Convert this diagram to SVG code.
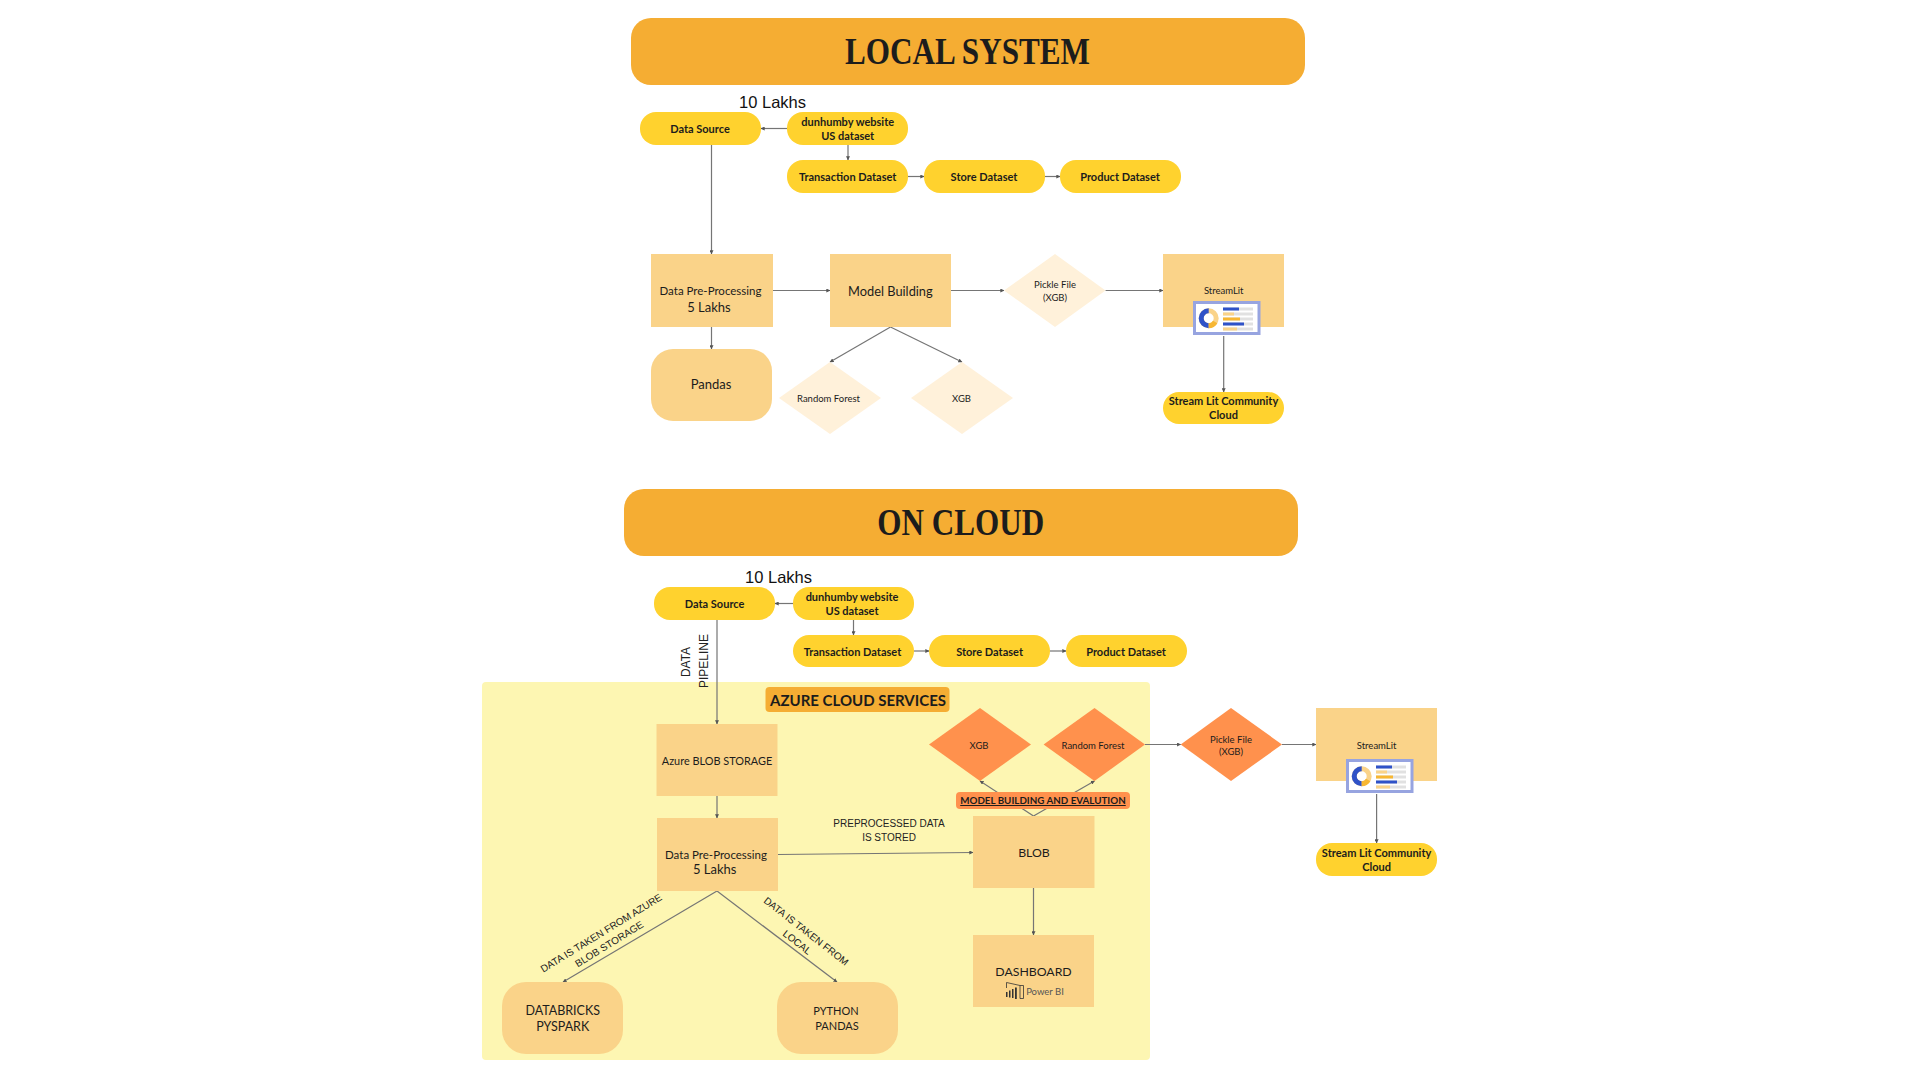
<svg xmlns="http://www.w3.org/2000/svg" width="1920" height="1080" viewBox="0 0 1920 1080">
<style>
text{font-family:"Lato","Liberation Sans",sans-serif;fill:#1c1c1c;text-anchor:middle;font-size:10px}
.title{font-family:"Liberation Serif",serif;font-weight:700;font-size:38px}
.y{fill:#ffd22e}.b{fill:#fad389}.l{fill:#fff1da}.o{fill:#ff914d}.h{fill:#f5ad33}
.yt{font-weight:700;font-size:11px}
.lk{font-family:"Liberation Sans",sans-serif;font-size:16.5px;fill:#111}
.cap{font-family:"Liberation Sans",sans-serif;font-size:10px;fill:#222}
.m{font-size:13px}.s{font-size:9.5px}.n{font-size:12.5px}.p{font-size:11.5px}.u{font-size:12.3px}
.c line{stroke:#757575;stroke-width:1.2;marker-end:url(#a)}
</style>
<defs>
<marker id="a" viewBox="0 0 6 6" refX="5.5" refY="3" markerWidth="4" markerHeight="4" markerUnits="userSpaceOnUse" orient="auto"><path d="M0 0L6 3L0 6Z" fill="#555"/></marker>
<symbol id="dash" width="68" height="35" viewBox="0 0 68 35">
<rect x="1.5" y="1.5" width="64.5" height="31" fill="#fff" stroke="#97a4e0" stroke-width="3"/>
<circle cx="15.7" cy="17.3" r="7.5" fill="none" stroke="#fad389" stroke-width="5"/>
<path d="M15.7 9.8A7.5 7.5 0 0 0 15.7 24.8" fill="none" stroke="#2f52c8" stroke-width="5"/>
<path d="M22.2 21A7.5 7.5 0 0 1 15.7 24.8" fill="none" stroke="#f7b733" stroke-width="5"/>
<g fill="#e1e1e1"><rect x="30" y="6.5" width="30" height="3"/><rect x="30" y="11.5" width="30" height="3"/><rect x="30" y="16.5" width="30" height="3"/><rect x="30" y="21.5" width="30" height="3"/><rect x="30" y="26.5" width="30" height="3"/></g>
<rect x="30" y="6.5" width="16" height="3" fill="#2f52c8"/><rect x="30" y="11.5" width="11" height="3" fill="#fad389"/><rect x="30" y="16.5" width="17" height="3" fill="#f7b733"/><rect x="30" y="21.5" width="21" height="3" fill="#2f52c8"/><rect x="30" y="26.5" width="14" height="3" fill="#fad389"/>
</symbol>
</defs>
<rect width="1920" height="1080" fill="#fff"/>
<rect id="azure-panel" x="482" y="682" width="668" height="378" rx="4" fill="#fdf6b2"/>

<g id="connectors" class="c">
<line x1="787" y1="128.5" x2="761" y2="128.5"/>
<line x1="848" y1="145" x2="848" y2="160"/>
<line x1="908" y1="176.5" x2="924" y2="176.5"/>
<line x1="1045" y1="176.5" x2="1060" y2="176.5"/>
<line x1="711.5" y1="145" x2="711.5" y2="254"/>
<line x1="711.5" y1="327" x2="711.5" y2="349"/>
<line x1="773" y1="290.5" x2="830" y2="290.5"/>
<line x1="951" y1="290.5" x2="1004" y2="290.5"/>
<line x1="1105.5" y1="290.5" x2="1163" y2="290.5"/>
<line x1="890.5" y1="327" x2="830" y2="362"/>
<line x1="890.5" y1="327" x2="962" y2="362"/>
<line x1="1223.7" y1="336" x2="1223.7" y2="392"/>
<line x1="793" y1="603.5" x2="775" y2="603.5"/>
<line x1="853.5" y1="620" x2="853.5" y2="635"/>
<line x1="914" y1="651" x2="929" y2="651"/>
<line x1="1050" y1="651" x2="1066" y2="651"/>
<line x1="717" y1="620" x2="717" y2="724"/>
<line x1="717" y1="796" x2="717" y2="818"/>
<line x1="717" y1="891" x2="563" y2="982"/>
<line x1="717" y1="891" x2="837" y2="982"/>
<line x1="778" y1="854.5" x2="973" y2="852.5"/>
<line x1="1033.5" y1="888" x2="1033.5" y2="935"/>
<line x1="1033.5" y1="816" x2="980" y2="781"/>
<line x1="1033.5" y1="816" x2="1094.5" y2="781"/>
<line x1="1145" y1="744.5" x2="1180.7" y2="744.5"/>
<line x1="1282" y1="744.5" x2="1316" y2="744.5"/>
<line x1="1376.6" y1="794" x2="1376.6" y2="843"/>
</g>

<g id="local-title"><rect class="h" x="631" y="18" width="674" height="67" rx="20"/><text class="title" x="967.5" y="64" textLength="245" lengthAdjust="spacingAndGlyphs">LOCAL SYSTEM</text></g>
<text class="lk" x="772.5" y="108">10 Lakhs</text>
<g id="l-source"><rect class="y" x="640" y="112" width="121" height="33" rx="16"/><text class="yt" x="700" y="132.5">Data Source</text></g>
<g id="l-dunhumby"><rect class="y" x="787" y="112" width="121" height="33" rx="16"/><text class="yt" x="847.7" y="125.5">dunhumby website</text><text class="yt" x="847.7" y="139.5">US dataset</text></g>
<g id="l-transaction"><rect class="y" x="787" y="160" width="121" height="33" rx="16"/><text class="yt" x="847.7" y="180.5">Transaction Dataset</text></g>
<g id="l-store"><rect class="y" x="924" y="160" width="121" height="33" rx="16"/><text class="yt" x="984" y="180.5">Store Dataset</text></g>
<g id="l-product"><rect class="y" x="1060" y="160" width="121" height="33" rx="16"/><text class="yt" x="1120" y="180.5">Product Dataset</text></g>
<g id="l-preprocessing"><rect class="b" x="651" y="254" width="122" height="73"/><text class="p" x="710.5" y="294.5">Data Pre-Processing</text><text class="m" x="709" y="312">5 Lakhs</text></g>
<g id="l-model"><rect class="b" x="830" y="254" width="121" height="73"/><text class="u" x="890.4" y="295.5" style="font-size:12.8px">Model Building</text></g>
<g id="l-pickle"><polygon class="l" points="1055,254 1105.5,290.5 1055,327 1004,290.5"/><text class="s" x="1055" y="287.5">Pickle File</text><text class="s" x="1055" y="300.5">(XGB)</text></g>
<g id="l-streamlit"><rect class="b" x="1163" y="254" width="121" height="73"/><text class="s" x="1223.7" y="293.5">StreamLit</text><use href="#dash" x="1193" y="301"/></g>
<g id="l-pandas"><rect class="b" x="651" y="349" width="121" height="72" rx="22"/><text class="m" x="711" y="389">Pandas</text></g>
<g id="l-rf"><polygon class="l" points="830,362 881,398 830,434 779,398"/><text class="s" x="828.5" y="401.5">Random Forest</text></g>
<g id="l-xgb"><polygon class="l" points="962,362 1013,398 962,434 911,398"/><text class="s" x="961.5" y="401.5">XGB</text></g>
<g id="l-community"><rect class="y" x="1163" y="392" width="121" height="32" rx="16"/><text class="yt" x="1223.5" y="404.5">Stream Lit Community</text><text class="yt" x="1223.5" y="418.5">Cloud</text></g>

<g id="cloud-title"><rect class="h" x="624" y="489" width="674" height="67" rx="20"/><text class="title" x="960.7" y="535" textLength="167" lengthAdjust="spacingAndGlyphs">ON CLOUD</text></g>
<text class="lk" x="778.5" y="583">10 Lakhs</text>
<g id="c-source"><rect class="y" x="654" y="587" width="121" height="33" rx="16"/><text class="yt" x="714.6" y="607.5">Data Source</text></g>
<g id="c-dunhumby"><rect class="y" x="793" y="587" width="121" height="33" rx="16"/><text class="yt" x="852" y="600.5">dunhumby website</text><text class="yt" x="852" y="614.5">US dataset</text></g>
<g id="c-transaction"><rect class="y" x="793" y="635" width="121" height="32" rx="16"/><text class="yt" x="852.5" y="655.5">Transaction Dataset</text></g>
<g id="c-store"><rect class="y" x="929" y="635" width="121" height="32" rx="16"/><text class="yt" x="989.6" y="655.5">Store Dataset</text></g>
<g id="c-product"><rect class="y" x="1066" y="635" width="121" height="32" rx="16"/><text class="yt" x="1126" y="655.5">Product Dataset</text></g>
<text class="cap" transform="translate(690,662) rotate(-90)" style="font-size:12px">DATA</text>
<text class="cap" transform="translate(708,661) rotate(-90)" style="font-size:12px">PIPELINE</text>
<g id="azure-label"><rect class="h" x="765.5" y="687" width="184" height="25" rx="4"/><text x="858" y="705.5" style="font-weight:700;font-size:15px">AZURE CLOUD SERVICES</text></g>
<g id="c-blobstorage"><rect class="b" x="656.5" y="724" width="121" height="72"/><text x="717" y="764.5" style="font-size:10.9px">Azure BLOB STORAGE</text></g>
<g id="c-preprocessing"><rect class="b" x="657" y="818" width="121" height="73"/><text class="p" x="716" y="858.5">Data Pre-Processing</text><text class="m" x="714.7" y="874">5 Lakhs</text></g>
<g id="c-databricks"><rect class="b" x="502" y="982" width="121" height="72" rx="24"/><text class="n" x="562.7" y="1015">DATABRICKS</text><text class="n" x="562.7" y="1031">PYSPARK</text></g>
<g id="c-pandas"><rect class="b" x="777" y="982" width="121" height="72" rx="24"/><text x="836" y="1015" style="font-size:11px">PYTHON</text><text x="837" y="1030" style="font-size:11px">PANDAS</text></g>
<g id="c-xgb"><polygon class="o" points="980,708 1031,744.5 980,781 929,744.5"/><text class="s" x="979" y="748.5">XGB</text></g>
<g id="c-rf"><polygon class="o" points="1094.5,708 1145,744.5 1094.5,781 1043.6,744.5"/><text class="s" x="1093" y="748.5">Random Forest</text></g>
<g id="c-pickle"><polygon class="o" points="1231,708 1282,744.5 1231,781 1180.7,744.5"/><text class="s" x="1231" y="742.5">Pickle File</text><text class="s" x="1231" y="754.5">(XGB)</text></g>
<g id="c-modellabel"><rect class="o" x="956" y="792" width="174" height="17" rx="4"/><text x="1043" y="804" style="font-weight:700;font-size:9.8px;text-decoration:underline">MODEL BUILDING AND EVALUTION</text></g>
<g id="c-blob"><rect class="b" x="973" y="816" width="121.5" height="72"/><text class="u" x="1034" y="856.5">BLOB</text></g>
<g id="c-dashboard"><rect class="b" x="973" y="935" width="121" height="72"/><text class="u" x="1033.5" y="975.5">DASHBOARD</text>
<path d="M1006.5 982.5L1020 985.5L1023.5 985.5V998.5H1020V985.5M1006.5 982.5V988" fill="none" stroke="#333" stroke-width=".8"/>
<g fill="#333"><rect x="1006" y="992" width="1.5" height="5"/><rect x="1009" y="990.5" width="1.5" height="7"/><rect x="1012" y="989" width="1.5" height="9"/><rect x="1015" y="987.5" width="1.8" height="11.5"/></g>
<text x="1045" y="994.5" style="font-size:9.5px;fill:#555">Power BI</text></g>
<g id="c-streamlit"><rect class="b" x="1316" y="708" width="121" height="73"/><text class="s" x="1376.6" y="748.5">StreamLit</text><use href="#dash" x="1346" y="759"/></g>
<g id="c-community"><rect class="y" x="1316" y="843" width="121" height="33" rx="16"/><text class="yt" x="1376.6" y="856.5">Stream Lit Community</text><text class="yt" x="1376.6" y="870.5">Cloud</text></g>
<text class="cap" x="889" y="827">PREPROCESSED DATA</text>
<text class="cap" x="889" y="841">IS STORED</text>
<text class="cap" transform="translate(603,936) rotate(-31.6)">DATA IS TAKEN FROM AZURE</text>
<text class="cap" transform="translate(611,947) rotate(-31.6)">BLOB STORAGE</text>
<text class="cap" transform="translate(804,934) rotate(38)">DATA IS TAKEN FROM</text>
<text class="cap" transform="translate(795,945) rotate(38)">LOCAL</text>
</svg>
